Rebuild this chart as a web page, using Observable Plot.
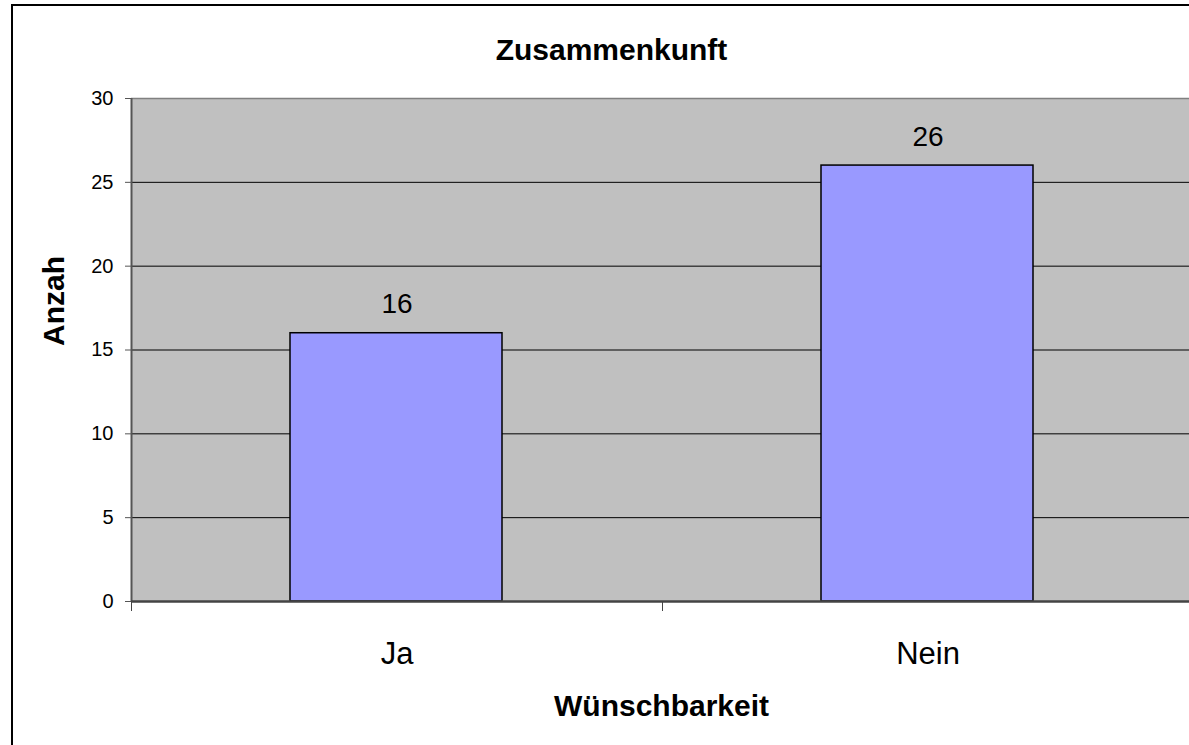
<!DOCTYPE html>
<html>
<head>
<meta charset="utf-8">
<script src="https://cdn.jsdelivr.net/npm/d3@7"></script>
<script src="https://cdn.jsdelivr.net/npm/@observablehq/plot@0.6"></script>
<style>
  html, body { margin: 0; padding: 0; background: #fff; overflow: hidden; }
  #wrap { position: relative; width: 1189px; height: 745px; overflow: hidden; }
  #border { position: absolute; left: 11px; top: 4px; width: 2000px; height: 2000px;
            border: 2px solid #000; pointer-events: none; box-sizing: border-box; }
  #chart { position: absolute; left: 0; top: 0; }
</style>
</head>
<body>
<div id="wrap"><div id="chart"></div><div id="border"></div></div>
<script>
const categories = ["Ja", "Nein"];
const counts = [16, 26];
const yTicks = [0, 5, 10, 15, 20, 25, 30];
const gridValues = [5, 10, 15, 20, 25];
const titleText = "Zusammenkunft";
const xLabel = "Wünschbarkeit";
const yLabel = "Anzah";

const data = categories.map((c, i) => ({category: c, index: i, value: counts[i]}));
const font = "'Liberation Sans', Arial, Helvetica, sans-serif";

const chart = Plot.plot({
  width: 1189,
  height: 745,
  marginTop: 98,
  marginLeft: 131,
  marginRight: 0,
  marginBottom: 144,
  style: {fontFamily: font, background: "transparent", overflow: "visible"},
  x: {type: "linear", domain: [0, categories.length], range: [131, 1193]},
  y: {domain: [0, 30]},
  marks: [
    Plot.frame({fill: "#c0c0c0"}),
    Plot.ruleY(gridValues, {stroke: "#000", strokeWidth: 1}),
    Plot.ruleY([30], {stroke: "#808080", strokeWidth: 1.5}),
    Plot.rectY(data, {x1: "index", x2: d => d.index + 1, y: "value",
      fill: "#9999ff", stroke: "#000", strokeWidth: 1.5, insetLeft: 159, insetRight: 160}),
    Plot.ruleX([0], {stroke: "#555", strokeWidth: 2}),
    Plot.ruleY([0], {stroke: "#444", strokeWidth: 2.5}),
    Plot.axisY({ticks: yTicks, tickSize: 6, tickPadding: 12, fontSize: 20,
      stroke: "#555", fill: "#000", label: null, tickFormat: d => String(d)}),
    Plot.axisX({ticks: [0, 1, 2], tickSize: 10, stroke: "#444", tickFormat: () => "", label: null}),
    Plot.text(data, {x: d => d.index + 0.5, y: "value", text: d => String(d.value),
      dy: -20, lineAnchor: "bottom", fontSize: 28, fill: "#000"}),
    Plot.text(data, {x: d => d.index + 0.5, text: "category", frameAnchor: "bottom",
      dy: 62, lineAnchor: "bottom", fontSize: 31, fill: "#000"}),
    Plot.text([titleText], {text: d => d, frameAnchor: "top", dx: -49, dy: -39,
      lineAnchor: "bottom", fontSize: 30, fontWeight: "bold", fill: "#000"}),
    Plot.text([xLabel], {text: d => d, frameAnchor: "bottom", dx: 1, dy: 114,
      lineAnchor: "bottom", fontSize: 30, fontWeight: "bold", fill: "#000"}),
    Plot.text([yLabel], {text: d => d, frameAnchor: "left", dx: -68, dy: -4,
      rotate: -90, lineAnchor: "bottom", fontSize: 30, fontWeight: "bold", fill: "#000"})
  ]
});
document.getElementById("chart").appendChild(chart);
</script>
</body>
</html>
